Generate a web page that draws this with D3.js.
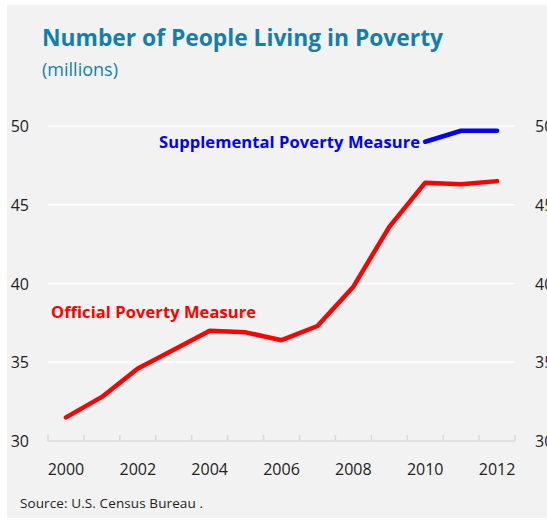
<!DOCTYPE html>
<html><head><meta charset="utf-8">
<script src="https://cdn.jsdelivr.net/npm/d3@7"></script>
<style>
html,body{margin:0;padding:0;background:#fff;}
svg{display:block;}
</style>
</head><body>
<svg id="c" width="547" height="520"></svg>
<script>
const years = ["2000","2001","2002","2003","2004","2005","2006","2007","2008","2009","2010","2011","2012"];
const officialValues = [31.5, 32.8, 34.6, 35.8, 37.0, 36.9, 36.4, 37.3, 39.8, 43.6, 46.4, 46.3, 46.5];
const supplementalYears = ["2010","2011","2012"];
const supplementalValues = [49.0, 49.7, 49.7];
const yTicks = [30, 35, 40, 45, 50];
const xTickLabels = ["2000","2002","2004","2006","2008","2010","2012"];
const titleText = "Number of People Living in Poverty";
const subtitleText = "(millions)";
const sourceText = "Source:  U.S. Census Bureau .";

(function(){
const svg = d3.select("#c");
const font = "'Open Sans', 'Noto Sans', sans-serif";

svg.append("rect").attr("x",7).attr("y",5).attr("width",540).attr("height",513).attr("fill","#f2f2f2");

const pL = 48, pR = 515, pT = 126, pB = 441;
const x = d3.scaleBand().domain(years).range([pL, pR]).paddingInner(0).paddingOuter(0);
const y = d3.scaleLinear().domain([30, 50]).range([pB, pT]);
const cx = d => x(d) + x.bandwidth()/2;

svg.append("g").selectAll("line").data(yTicks.filter(t => t > 30)).join("line")
  .attr("x1", pL).attr("x2", pR)
  .attr("y1", d => y(d)).attr("y2", d => y(d))
  .attr("stroke", "#ffffff").attr("stroke-width", 1.5);

const yl = svg.append("g").attr("transform", `translate(29,0)`)
  .call(d3.axisLeft(y).tickValues(yTicks).tickSize(0).tickPadding(0));
yl.select(".domain").remove();
yl.selectAll("text").attr("font-family", font).attr("font-size", 16).attr("fill", "#222").attr("dy","0.35em");

const yr = svg.append("g").attr("transform", `translate(535,0)`)
  .call(d3.axisRight(y).tickValues(yTicks).tickSize(0).tickPadding(0));
yr.select(".domain").remove();
yr.selectAll("text").attr("font-family", font).attr("font-size", 16).attr("fill", "#222").attr("dy","0.35em");

svg.append("line").attr("x1", pL).attr("x2", pR).attr("y1", pB).attr("y2", pB)
  .attr("stroke", "#d9d9d9").attr("stroke-width", 1.5);
const boundaries = years.map(d => x(d)).concat([x(years[years.length-1]) + x.step()]);
svg.append("g").selectAll("line").data(boundaries).join("line")
  .attr("x1", d => d).attr("x2", d => d).attr("y1", pB).attr("y2", pB - 6)
  .attr("stroke", "#d9d9d9").attr("stroke-width", 1.5);

const xa = svg.append("g").attr("transform", `translate(0,${pB})`)
  .call(d3.axisBottom(x).tickValues(xTickLabels).tickSize(0).tickPadding(0));
xa.select(".domain").remove();
xa.selectAll("text").attr("font-family", font).attr("font-size", 16).attr("fill", "#222").attr("dy", "34px");

const line = d3.line().x(d => cx(d[0])).y(d => y(d[1]));
svg.append("path").datum(years.map((yv, i) => [yv, officialValues[i]]))
  .attr("d", line).attr("fill", "none").attr("stroke", "#ff0000").attr("stroke-width", 4.5)
  .attr("stroke-linecap", "round").attr("stroke-linejoin", "round");
svg.append("path").datum(supplementalYears.map((yv, i) => [yv, supplementalValues[i]]))
  .attr("d", line).attr("fill", "none").attr("stroke", "#0000ff").attr("stroke-width", 4.5)
  .attr("stroke-linecap", "round").attr("stroke-linejoin", "round");

svg.append("text").attr("x", 159).attr("y", 148).text("Supplemental Poverty Measure")
  .attr("font-family", font).attr("font-weight", "bold").attr("font-size", 16.5).attr("fill", "#0000ff")
  .attr("textLength", 261).attr("lengthAdjust", "spacing");
svg.append("text").attr("x", 51).attr("y", 318).text("Official Poverty Measure")
  .attr("font-family", font).attr("font-weight", "bold").attr("font-size", 16.5).attr("fill", "#ff0000")
  .attr("textLength", 205).attr("lengthAdjust", "spacing");

svg.append("text").attr("x", 42).attr("y", 46).text(titleText)
  .attr("font-family", font).attr("font-weight", "bold").attr("font-size", 24).attr("fill", "#127fad")
  .attr("textLength", 401).attr("lengthAdjust", "spacingAndGlyphs");
svg.append("text").attr("x", 42).attr("y", 76).text(subtitleText)
  .attr("font-family", font).attr("font-size", 17.5).attr("fill", "#127fad")
  .attr("textLength", 76).attr("lengthAdjust", "spacingAndGlyphs");

svg.append("text").attr("x", 20).attr("y", 508).text(sourceText)
  .attr("font-family", font).attr("font-size", 13.5).attr("fill", "#222")
  .attr("textLength", 183).attr("lengthAdjust", "spacing");
})();
</script>
</body></html>
